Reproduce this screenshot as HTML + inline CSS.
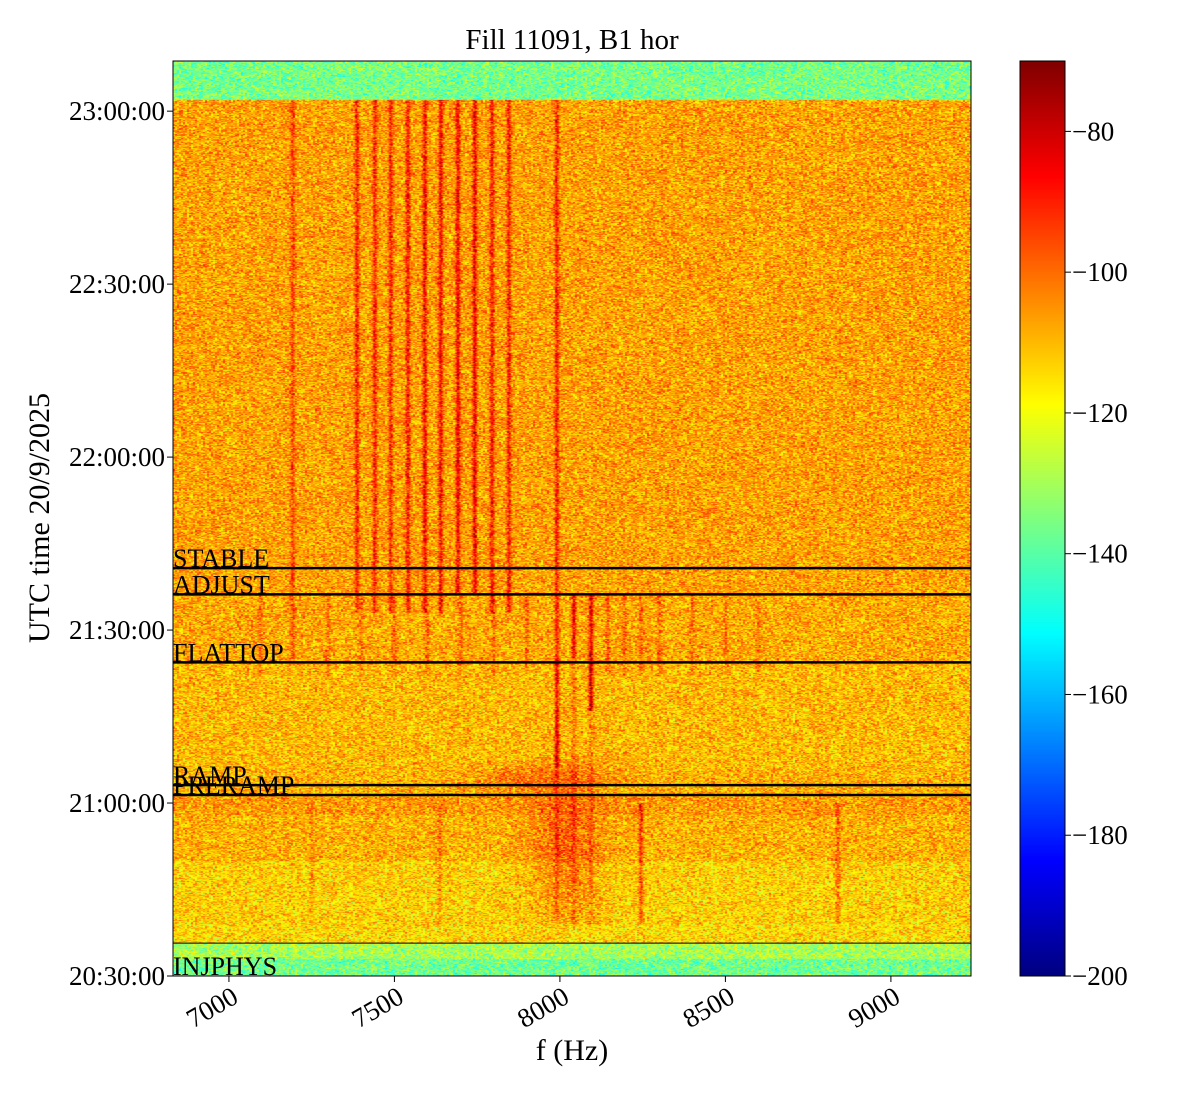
<!DOCTYPE html>
<html><head><meta charset="utf-8"><style>
body{margin:0;background:#fff;width:1200px;height:1100px;overflow:hidden;position:relative;font-family:"Liberation Serif",serif;}
.t{position:absolute;color:#000;white-space:nowrap;}
</style></head><body>
<canvas id="spec" width="798" height="915" style="position:absolute;left:173px;top:61px;"></canvas>
<canvas id="cbar" width="45" height="915" style="position:absolute;left:1020px;top:61px;"></canvas>
<svg id="ov" width="1200" height="1100" style="position:absolute;left:0;top:0;"></svg>
<script>
// ---- data ----
const fMin=6831,fMax=9242;          // Hz
const tMin=0,tMax=158.7;            // minutes after 20:30:00
const vMin=-200,vMax=-70;
const xTickVals=[7000,7500,8000,8500,9000];
const yTickVals=[0,30,60,90,120,150];
const yTickLabels=["20:30:00","21:00:00","21:30:00","22:00:00","22:30:00","23:00:00"];
const cTickVals=[-200,-180,-160,-140,-120,-100,-80];
const cTickLabels=["\u2212200","\u2212180","\u2212160","\u2212140","\u2212120","\u2212100","\u221280"];
const eventNames=["STABLE","ADJUST","FLATTOP","RAMP","PRERAMP","INJPHYS"];
const eventTimes=[70.75,66.2,54.4,33.1,31.4,5.7];
// background level (dB) over time segments
const bgStart=[0,3.0,5.7,9,20,28,31,36,54,66,152];
const bgEnd  =[3.0,5.7,9,20,28,31,36,54,66,152,158.7];
const bgLevel=[-137,-130,-114,-113,-109,-106,-109,-110,-108,-107,-136];
// spectral lines
const lineFreq =[7193,7387,7441,7489,7541,7592,7640,7692,7743,7795,7846,7991,8042,8094,7991,8042,8094,8145,8195,8245,8300,8400,8500,8600,7250,7637,8245,8840,7300,7400,7500,7600,7700,7800,7900,7095];
const lineStart=[55,63,63,63,63,63,63,66,66,63,63,36,55,46,8,8,8,52,52,52,52,52,52,52,9,9,7,9,52,52,52,52,52,52,52,52];
const lineEnd  =[152,152,152,152,152,152,152,152,152,152,152,152,66,66,55,55,55,66,66,66,66,66,66,66,30,30,30,30,66,66,66,66,66,66,66,66];
const lineAmp  =[12,17,16,16,18,20,20,21,22,18,18,17,22,24,9,8,7,9,9,8,8,7,7,7,6,8,17,11,8,8,8,8,8,8,8,7];
// broadband blob near 8000 Hz during ramp
const blobFreq=[8020,7950];
const blobTime=[21,34];
const blobAmp=[10,8];
const blobFW=[110,200];
const blobTW=[12,2.5];

// ---- axes ----
const PX=173,PY=61,PW=798,PH=915;
const xs=f=>PX+(f-fMin)/(fMax-fMin)*PW;
const ys=t=>PY+(tMax-t)/(tMax-tMin)*PH;
const cs=v=>PY+(vMax-v)/(vMax-vMin)*PH;
function jet(v){let x=(v-vMin)/(vMax-vMin);x=Math.max(0,Math.min(1,x));
 const c=a=>Math.max(0,Math.min(1,a));
 return [c(1.5-Math.abs(4*x-3))*255,c(1.5-Math.abs(4*x-2))*255,c(1.5-Math.abs(4*x-1))*255];}
function hash(i,j){let h=(i*374761393+j*668265263)|0;h=(h^(h>>>13))*1274126177|0;return ((h^(h>>>16))>>>0)/4294967296;}

const sc=document.getElementById('spec').getContext('2d');
const img=sc.createImageData(PW,PH);
for(let py=0;py<PH;py++){
 const t=tMax-(py+0.5)/PH*(tMax-tMin);
 let bg=-108;for(let k=0;k<bgStart.length;k++)if(t>=bgStart[k]&&t<bgEnd[k])bg=bgLevel[k];
 for(let px=0;px<PW;px++){
  const f=fMin+(px+0.5)/PW*(fMax-fMin);
  let v=bg;
  if(t>9&&t<152){
   for(let k=0;k<lineFreq.length;k++){if(t>=lineStart[k]&&t<lineEnd[k]){const d=(f-lineFreq[k])/7;if(Math.abs(d)<3)v+=lineAmp[k]*Math.exp(-d*d);}}
   for(let k=0;k<blobFreq.length;k++){const df=(f-blobFreq[k])/blobFW[k],dt=(t-blobTime[k])/blobTW[k];v+=blobAmp[k]*Math.exp(-df*df-dt*dt);}
  }
  const n=(hash(px>>1,py)+hash(px>>1,py+7777)-1)*18;
  const col=jet(v+n);const o=(py*PW+px)*4;
  img.data[o]=col[0];img.data[o+1]=col[1];img.data[o+2]=col[2];img.data[o+3]=255;
 }}
sc.putImageData(img,0,0);
const cc=document.getElementById('cbar').getContext('2d');
for(let py=0;py<PH;py++){const col=jet(vMax-(py+0.5)/PH*(vMax-vMin));cc.fillStyle=`rgb(${col[0]|0},${col[1]|0},${col[2]|0})`;cc.fillRect(0,py,45,1);}

const NS='http://www.w3.org/2000/svg';const ov=document.getElementById('ov');
function mk(tag,at,txt){const e=document.createElementNS(NS,tag);for(const k in at)e.setAttribute(k,at[k]);if(txt!==undefined)e.textContent=txt;ov.appendChild(e);return e;}
eventNames.forEach((nm,i)=>{const y=ys(eventTimes[i]);
 const l=mk('line',{x1:PX,x2:PX+PW,y1:y,y2:y,stroke:'#000','stroke-width':nm==='INJPHYS'?1:2.5});
 
 
 const tx=mk('text',{x:PX,y:nm==='INJPHYS'?ys(0)-1:y-1,'font-size':26,'font-family':'Liberation Serif, serif'},nm);
 
 
});
const fr=mk('rect',{x:PX,y:PY,width:PW,height:PH,fill:'none',stroke:'#000','stroke-width':1});


const cf=mk('rect',{x:1020,y:PY,width:45,height:PH,fill:'none',stroke:'#000','stroke-width':1});


xTickVals.forEach(v=>{const x=xs(v);mk('line',{x1:x,x2:x,y1:PY+PH,y2:PY+PH+6,stroke:'#000'});
 const ax=x+2,ay=PY+PH+10;
 const t=mk('text',{x:ax,y:ay+18,'font-size':27,'text-anchor':'end','font-family':'Liberation Serif, serif',transform:`rotate(-30 ${ax} ${ay})`},String(v));
 
 });
yTickVals.forEach((v,i)=>{const y=ys(v);mk('line',{x1:PX-6,x2:PX,y1:y,y2:y,stroke:'#000'});
 const t=mk('text',{x:PX-8,y:y+9,'font-size':27,'text-anchor':'end','font-family':'Liberation Serif, serif'},yTickLabels[i]);
 
 });
cTickVals.forEach((v,i)=>{const y=cs(v);mk('line',{x1:1065,x2:1071,y1:y,y2:y,stroke:'#000'});
 const t=mk('text',{x:1072,y:y+9,'font-size':27,'font-family':'Liberation Serif, serif'},cTickLabels[i]);
 
 });
</script>
<div class="t" style="left:572px;top:24px;font-size:29px;transform:translateX(-50%);">Fill 11091, B1 hor</div>
<div class="t" style="left:572px;top:1034px;font-size:30px;transform:translateX(-50%);">f (Hz)</div>
<div class="t" style="left:40px;top:518px;font-size:30px;transform:translate(-50%,-50%) rotate(-90deg);">UTC time 20/9/2025</div>
</body></html>
